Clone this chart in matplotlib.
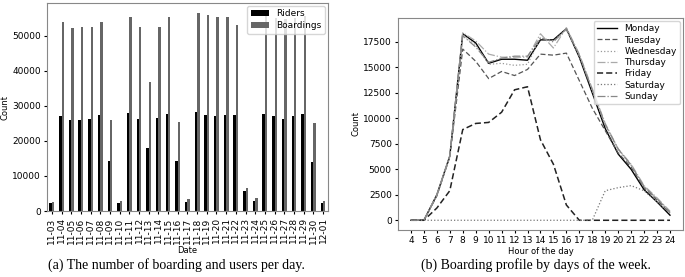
import matplotlib
matplotlib.use("Agg")
import matplotlib.pyplot as plt
import numpy as np

dates = ["11-03", "11-04", "11-05", "11-06", "11-07", "11-08", "11-09", "11-10",
         "11-11", "11-12", "11-13", "11-14", "11-15", "11-16", "11-17", "11-18",
         "11-19", "11-20", "11-21", "11-22", "11-23", "11-24", "11-25", "11-26",
         "11-27", "11-28", "11-29", "11-30", "12-01"]
riders = [2200, 27200, 25900, 26000, 26200, 27300, 14400, 2300,
          28000, 26200, 18000, 26500, 27600, 14300, 2500, 28300,
          27300, 27100, 27400, 27300, 5700, 2800, 27600, 27200,
          26300, 27000, 27700, 14100, 2300]
boardings = [2700, 53800, 52100, 52500, 52500, 54000, 26000, 3000,
             55400, 52400, 36800, 52400, 55300, 25400, 3300, 56500,
             55900, 55300, 55300, 53000, 6700, 3700, 55500, 55000,
             54800, 54900, 55500, 25200, 2900]

hours = list(range(4, 25))
monday    = [0, 0, 2500, 6300, 18300, 17400, 15400, 15800, 15800, 15700, 17700, 17700, 18800, 16000, 12500, 9000, 6500, 5000, 3000, 1800, 500]
tuesday   = [0, 0, 2400, 6200, 16800, 15600, 13900, 14600, 14200, 14800, 16300, 16200, 16400, 13700, 11000, 8800, 6600, 5200, 3200, 2000, 700]
wednesday = [0, 0, 2500, 6200, 18200, 17200, 15300, 15400, 15200, 15300, 17900, 17600, 18700, 16100, 12700, 9300, 6900, 5400, 3300, 2100, 800]
thursday  = [0, 0, 2500, 6300, 18400, 17600, 16300, 16000, 16000, 16000, 18300, 16900, 18900, 16300, 12900, 9500, 7000, 5500, 3400, 2200, 900]
friday    = [0, 0, 1200, 2900, 8900, 9500, 9600, 10600, 12800, 13100, 7900, 5500, 1500, 0, 0, 0, 0, 0, 0, 0, 0]
saturday  = [0, 0, 0, 0, 0, 0, 0, 0, 0, 0, 0, 0, 0, 0, 0, 2900, 3200, 3400, 2900, 1800, 700]
sunday    = [0, 0, 2400, 6300, 18100, 17000, 15500, 15900, 16100, 16100, 17900, 17500, 18800, 16200, 12800, 9400, 7000, 5400, 3300, 2100, 800]

fs = 6.5
plt.rcParams['font.family'] = ['DejaVu Sans']
fig = plt.figure(figsize=(6.85, 2.77), dpi=100)

# Left chart
ax1 = fig.add_axes([0.0686, 0.238, 0.410, 0.751])
x = np.arange(len(dates))
w = 0.25
ax1.bar(x - w / 2, riders, w, color='black', label='Riders')
ax1.bar(x + w / 2, boardings, w, color='#666666', label='Boardings')
ax1.set_xlim(-0.5, len(dates) - 0.5)
ax1.set_ylim(0, 59300)
ax1.set_xticks(x)
ax1.set_xticklabels(dates, rotation=90, fontsize=fs)
ax1.tick_params(axis='y', labelsize=fs, length=2.5, pad=2)
ax1.tick_params(axis='x', length=2.5, pad=2)
ax1.set_yticks([0, 10000, 20000, 30000, 40000, 50000])
ax1.set_ylabel('Count', fontsize=fs - 0.5, labelpad=2)
ax1.set_xlabel('Date', fontsize=fs - 0.5, labelpad=2)
ax1.legend(loc='upper right', fontsize=fs, borderaxespad=0.3, handlelength=2.0,
           handleheight=0.7, labelspacing=0.3, borderpad=0.4)
for s in ax1.spines.values():
    s.set_color('#888888')
    s.set_linewidth(0.8)

# Right chart
ax2 = fig.add_axes([0.581, 0.170, 0.416, 0.765])
ax2.plot(hours, monday, color='black', ls='-', lw=1.0, label='Monday')
ax2.plot(hours, tuesday, color='#555555', ls=(0, (4, 2)), lw=0.9, label='Tuesday')
ax2.plot(hours, wednesday, color='#999999', ls=':', lw=0.9, label='Wednesday')
ax2.plot(hours, thursday, color='#aaaaaa', ls='-.', lw=0.9, label='Thursday')
ax2.plot(hours, friday, color='#222222', ls=(0, (4, 2)), lw=1.1, label='Friday')
ax2.plot(hours, saturday, color='#777777', ls=':', lw=0.9, label='Saturday')
ax2.plot(hours, sunday, color='#888888', ls='-.', lw=0.9, label='Sunday')
ax2.set_xticks(hours)
ax2.set_yticks([0, 2500, 5000, 7500, 10000, 12500, 15000, 17500])
ax2.tick_params(labelsize=fs, length=2.5, pad=2)
ax2.set_ylabel('Count', fontsize=fs - 0.5, labelpad=2)
ax2.set_xlabel('Hour of the day', fontsize=fs - 0.5, labelpad=1.5)
ax2.legend(loc='upper right', fontsize=fs, borderaxespad=0.3, handlelength=2.2,
           labelspacing=0.25, borderpad=0.4)
for s in ax2.spines.values():
    s.set_color('#888888')
    s.set_linewidth(0.8)

fig.text(0.258, 0.045, '(a) The number of boarding and users per day.',
         family='Liberation Serif', fontsize=10, ha='center', va='center')
fig.text(0.782, 0.045, '(b) Boarding profile by days of the week.',
         family='Liberation Serif', fontsize=10, ha='center', va='center')

fig.savefig('out.png', dpi=100)
